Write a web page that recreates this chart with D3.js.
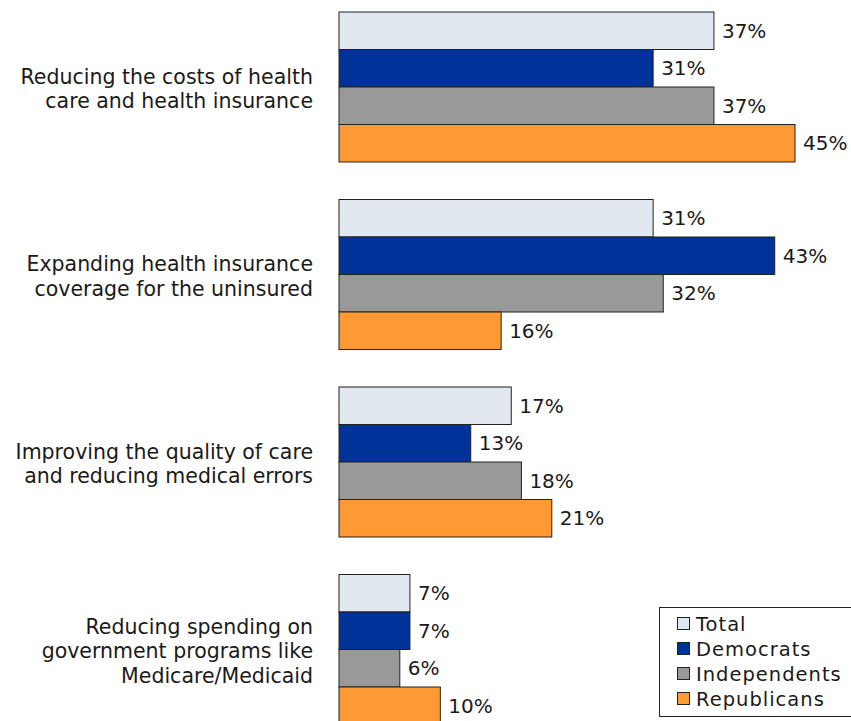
<!DOCTYPE html>
<html>
<head>
<meta charset="utf-8">
<script src="https://cdn.jsdelivr.net/npm/d3@7"></script>
<style>
  html, body { margin: 0; padding: 0; background: #fff; }
  svg { display: block; }
  text { font-family: "DejaVu Sans", Verdana, sans-serif; fill: #1a1a1a; }
</style>
</head>
<body>
<svg id="chart" width="851" height="721"></svg>
<script>
// Health care priorities by party, percent naming each item
const categories = [
  ["Reducing the costs of health", "care and health insurance"],
  ["Expanding health insurance", "coverage for the uninsured"],
  ["Improving the quality of care", "and reducing medical errors"],
  ["Reducing spending on", "government programs like", "Medicare/Medicaid"]
];
const seriesNames  = ["Total", "Democrats", "Independents", "Republicans"];
const seriesColors = ["#e1e8f0", "#003399", "#999999", "#ff9933"];
const total        = [37, 31, 17, 7];
const democrats    = [31, 43, 13, 7];
const independents = [37, 32, 18, 6];
const republicans  = [45, 16, 21, 10];
const seriesValues = [total, democrats, independents, republicans];

const svg = d3.select("#chart");

// value axis: 0% starts at the bar baseline
const x = d3.scaleLinear().domain([0, 45]).range([339, 795]);

// one band per category, four bars stacked inside it
const groupY = d3.scaleBand()
  .domain(d3.range(categories.length))
  .range([12, 12 + 187.5 * categories.length]);
const barY = d3.scaleBand()
  .domain(d3.range(seriesNames.length))
  .range([0, 150]);

const groups = svg.selectAll("g.group")
  .data(categories)
  .join("g")
  .attr("class", "group")
  .attr("transform", (d, i) => `translate(0,${groupY(i)})`);

groups.each(function (lines, ci) {
  const g = d3.select(this);
  seriesNames.forEach((name, si) => {
    const v = seriesValues[si][ci];
    g.append("rect")
      .attr("x", x(0))
      .attr("y", barY(si))
      .attr("width", x(v) - x(0))
      .attr("height", barY.bandwidth())
      .attr("fill", seriesColors[si])
      .attr("stroke", "#222")
      .attr("stroke-width", 1);
    g.append("text")
      .attr("x", x(v) + 8)
      .attr("y", barY(si) + barY.bandwidth() / 2)
      .attr("dy", "0.36em")
      .attr("font-size", 20)
      .text(v + "%");
  });

  // category label, right-aligned beside its group
  const lh = 24.5;
  const cy = 76.5;
  g.append("text")
    .attr("text-anchor", "end")
    .attr("font-size", 20.5)
    .selectAll("tspan")
    .data(lines)
    .join("tspan")
    .attr("x", 313)
    .attr("y", (d, i) => cy + (i - (lines.length - 1) / 2) * lh)
    .attr("dy", "0.36em")
    .text(d => d);
});

// Legend
const legend = svg.append("g").attr("transform", "translate(659,607)");
legend.append("rect")
  .attr("x", 0.5).attr("y", 0.5)
  .attr("width", 200).attr("height", 109)
  .attr("fill", "#fff").attr("stroke", "#222").attr("stroke-width", 1);
seriesNames.forEach((name, i) => {
  const yy = 17 + i * 25;
  legend.append("rect")
    .attr("x", 18.5).attr("y", yy - 6.5)
    .attr("width", 12).attr("height", 12)
    .attr("fill", seriesColors[i]).attr("stroke", "#222");
  legend.append("text")
    .attr("x", 37).attr("y", yy)
    .attr("dy", "0.36em")
    .attr("font-size", 19.5)
    .attr("letter-spacing", 1)
    .text(name);
});
</script>
</body>
</html>
